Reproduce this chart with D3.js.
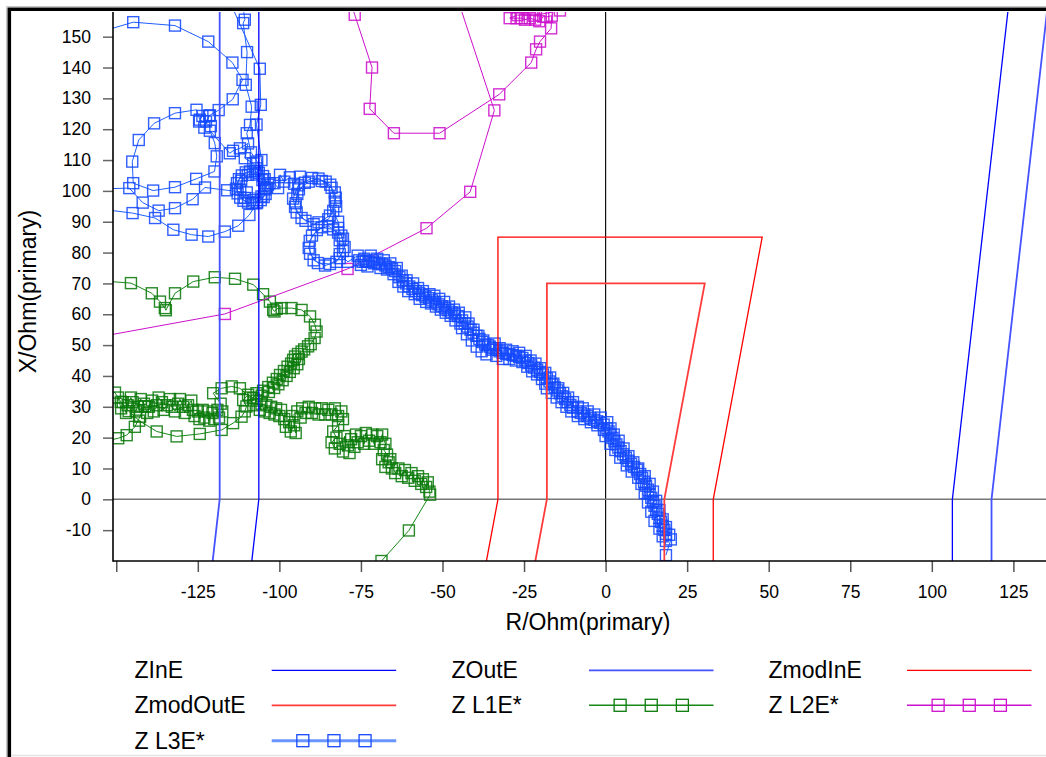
<!DOCTYPE html>
<html>
<head>
<meta charset="utf-8">
<script src="https://cdn.jsdelivr.net/npm/d3@7"></script>
<style>
  html, body { margin: 0; padding: 0; background: #fff; }
  svg { display: block; font-family: "Liberation Sans", Arial, sans-serif; }
</style>
</head>
<body>
<svg id="chart" width="1046" height="757"></svg>
<script>
/* Impedance plane (R/X) with zone characteristics and three loop trajectories. */

// ---- data ---------------------------------------------------------------
const xTicks = [-150, -125, -100, -75, -50, -25, 0, 25, 50, 75, 100, 125];
const xTickLabels = ['', '-125', '-100', '-75', '-50', '-25', '0', '25', '50', '75', '100', '125'];
const yTicks = [-10, 0, 10, 20, 30, 40, 50, 60, 70, 80, 90, 100, 110, 120, 130, 140, 150];

const legendNames = ['ZInE', 'ZOutE', 'ZmodInE', 'ZmodOutE', 'Z L1E*', 'Z L2E*', 'Z L3E*'];

// zone characteristics [R, X] (closed polygons, mostly beyond the visible area)
const zInE = [[106.3, -250], [106.3, 0], [133.2, 250], [-106.3, 250], [-106.3, 0], [-133.2, -250], [106.3, -250]];
const zOutE = [[118.3, -250], [118.3, 0], [145.2, 250], [-118.3, 250], [-118.3, 0], [-145.2, -250], [118.3, -250]];
const zModInE = [[33, -85], [33, 0], [48, 85], [-33, 85], [-33, 0], [-48, -85], [33, -85]];
const zModOutE = [[18, -70], [18, 0], [30.4, 70], [-18, 70], [-18, 0], [-30.4, -70], [18, -70]];

// loop L1 trajectory [R, X]
const zL1 = [
  [-163, 71.5], [-145.5, 70.1], [-139.1, 66.8], [-136.6, 64.1], [-135.1, 62], [-134.8, 61.3], [-132, 66.8],
  [-126.4, 70.6], [-119.8, 72], [-113.6, 71.5], [-108, 69.6], [-105, 66.5], [-102.9, 64.1], [-101.9, 61.4],
  [-101.5, 60.9], [-100.8, 61.8], [-99.3, 62], [-96.3, 62], [-93.2, 61.4], [-90.6, 59.3], [-89.1, 56.6],
  [-88.6, 54.4], [-89.2, 52.3], [-90.4, 50.3], [-91.2, 49.6], [-92.4, 48.6], [-93.2, 47.9], [-94.3, 47.1],
  [-95.2, 46.3], [-94, 45.5], [-95.8, 45.2], [-94.5, 43.8], [-96.4, 44], [-95.6, 42.5], [-97.5, 43],
  [-96.8, 41.3], [-98.6, 41.6], [-97.8, 40], [-99.8, 40.3], [-99, 38.6], [-100.8, 39], [-100.3, 37.3],
  [-102, 37.8], [-101.6, 36.1], [-103.4, 36.4], [-103.2, 34.8], [-105, 35.2], [-105.4, 33.6], [-107, 34.4],
  [-108, 32.8], [-109.6, 33.9], [-111.1, 32.2], [-110.1, 30.1], [-110.6, 28.5], [-111.6, 26.8], [-114.2, 24.7],
  [-117.7, 22.5], [-124.4, 21.2], [-131.5, 20.4], [-137.6, 22], [-143, 25.5], [-146.2, 28.6], [-148.6, 31.6],
  [-150.4, 34.6], [-161, 37.8], [-161, 17],
  [-149.4, 19.8], [-146.8, 20.8], [-144.3, 23.5], [-142.7, 26.8], [-141.2, 30.2],
  [-149.5, 33], [-148.5, 29.5], [-148, 31.5], [-147, 28], [-146.5, 30.5], [-145.5, 33], [-145, 31.5],
  [-144, 28.5], [-143.5, 30], [-142.5, 32.5], [-141.5, 31], [-140.5, 28], [-140, 30], [-139, 32],
  [-138.5, 28.5], [-137.5, 30.5], [-137, 33], [-136, 31.5], [-135.5, 29], [-134.5, 30.5], [-133.5, 32.5],
  [-133, 30], [-132, 28.5], [-131, 31], [-130.5, 32.5], [-129.5, 30], [-129, 28], [-128, 30.5], [-127, 32],
  [-126.5, 29], [-126, 27], [-125, 28.5], [-124.5, 26], [-123.5, 29], [-123, 26.5], [-122, 28.5],
  [-121.5, 25.5], [-120.5, 28], [-120, 26], [-119, 29], [-118.5, 26.5], [-117.5, 28.5], [-118, 31],
  [-120.3, 34.4], [-117.7, 36], [-114.6, 36.6], [-112.1, 36],
  [-109, 33], [-108, 30.5], [-107, 32], [-106, 29], [-105.5, 31], [-104.5, 28.5], [-104, 30.5], [-103, 28],
  [-102.5, 30], [-101.5, 27.5], [-101, 29.5], [-100, 27], [-99.5, 29], [-98.5, 26], [-98, 23.5], [-97, 25],
  [-96.5, 22], [-95.5, 24], [-95, 21.5], [-96, 27], [-94.5, 28.5], [-93.5, 26.5], [-93, 29.5], [-92, 28],
  [-91, 30], [-90, 28], [-89, 29.5], [-88, 27.5], [-87, 29.5], [-86, 27.5], [-85, 29], [-84, 27.5],
  [-83, 29.5], [-82, 27], [-81, 28.5], [-80.5, 26],
  [-82, 24], [-83.5, 22], [-82.5, 20], [-84, 18.5], [-83, 16.5], [-81.5, 18], [-80.5, 15.5], [-80, 20.5],
  [-79, 17.5], [-78.5, 15], [-78, 19.5], [-77, 17], [-76.5, 21], [-76, 18.5],
  [-75, 20.5], [-74, 18], [-73.5, 21.5], [-72.5, 19], [-71.5, 21], [-71, 18], [-70, 20.5], [-69, 18.5],
  [-68.5, 21], [-67.5, 18],
  [-68, 16], [-67, 14.5], [-68.5, 13], [-66.5, 12], [-67.5, 10.5], [-65.5, 10], [-66, 13], [-64.5, 8.5],
  [-63.5, 10], [-62.5, 7.5], [-61.5, 9.5], [-60.5, 7], [-59.5, 8.5], [-58.5, 6], [-57.5, 7.5], [-56.5, 5],
  [-56, 6.5], [-55, 4], [-54.5, 5.5], [-54, 2.5], [-53.8, 1.5],
  [-60.3, -10.1], [-68.7, -20], [-76, -29]
];

// loop L2 trajectory [R, X]
const zL2 = [
  [-165, 50.8], [-116.7, 60.1], [-79.1, 74.7], [-54.9, 87.9], [-41.5, 99.7], [-34.1, 126.1], [-48.3, 171.6],
  [-82, 174], [-76.9, 157.1], [-71.6, 140], [-72.3, 126.6], [-64.9, 118.7], [-50.9, 118.7], [-32.6, 131.3],
  [-22.8, 141.6], [-21.3, 145.9], [-20.1, 148.4], [-16.7, 152.7], [-16.5, 156.8], [-18, 156.4], [-19.1, 156.5],
  [-20.3, 155], [-21.6, 155.5], [-23.2, 156], [-24.7, 155.5], [-25.7, 156], [-27.3, 156], [-29.4, 156],
  [-27, 157], [-22, 156.8], [-14, 158.5], [-10, 166]
];

// loop L3 trajectory [R, X]
const zL3 = [
  [-161, 149.6], [-144.8, 154.7], [-132, 153.6], [-121.8, 148.4], [-114.4, 141.6], [-111.3, 136],
  [-114.3, 129.7], [-118.6, 126.2], [-121.3, 124.5], [-123.6, 124.3], [-124.6, 122.5], [-122.5, 122.5],
  [-121.5, 124.3], [-123, 120.5], [-121, 121], [-124.4, 123.1], [-125.4, 126.3], [-132, 125.2],
  [-138.4, 121.9], [-143.1, 116.5], [-145.1, 109.5], [-144.8, 102.5], [-138.7, 100.1], [-132, 101.2],
  [-125.5, 103.9], [-119.9, 106.3], [-119.2, 111.2], [-119.8, 115.5], [-121.3, 119.5], [-115.2, 112.2],
  [-114.2, 113], [-112.1, 113.8], [-109.6, 115.4], [-110.6, 110.6], [-108, 108.9], [-107, 107.3],
  [-104, 101], [-104.5, 103.8], [-106.3, 105.8], [-109, 106.3], [-111.5, 105], [-113, 102.5], [-112.8, 99.2],
  [-111, 96.8], [-108.3, 96], [-105.7, 97], [-104.2, 99],
  [-110, 99.5], [-116, 100.2], [-122.8, 101.1], [-126.6, 97.3], [-132, 94.4], [-137, 93.6], [-141.9, 96.2],
  [-146, 100.9], [-163, 100.4], [-200, 180],
  [-112, 167], [-110.6, 155.5], [-111.1, 154.4], [-109.9, 145], [-110.3, 134.4], [-108.5, 127.3],
  [-109, 121.4], [-110, 118.7], [-108.7, 112.5], [-106.8, 109.5],
  [-103.5, 102], [-105, 104.8], [-107.5, 106.5], [-110.3, 106], [-112.4, 103.8], [-113.3, 100.7], [-112, 97.8],
  [-109.6, 96.2], [-106.8, 96.3], [-104.8, 98], [-104.3, 100.5],
  [-105.5, 110], [-107, 121.5], [-105.7, 127.9], [-106, 139.6], [-118, 168], [-200, 180], [-200, 95],
  [-163, 95.2], [-145, 92.8], [-138.1, 91.2], [-132.5, 87.4], [-126.9, 85.8], [-121.8, 85.2], [-116.7, 86.8],
  [-112.6, 88.7], [-109.2, 92.2], [-107, 96],
  [-105.2, 103.5], [-107, 105.3], [-109.7, 105.2], [-111.7, 103.3], [-112, 100.4], [-110.6, 97.7], [-108, 97],
  [-105.5, 98.2], [-104.5, 100.8], [-103, 102.5],
  [-101.5, 102.5], [-100.4, 100.9], [-99.8, 105.2], [-98.5, 103], [-96.8, 104.4], [-95.5, 102.3], [-93.7, 104.6],
  [-95, 96], [-94, 100.5], [-91, 103], [-87, 103.2], [-84, 101], [-83, 96.5], [-84.5, 92], [-88, 89.8],
  [-92, 90.3], [-94.7, 93],
  [-95.8, 97.5], [-94.2, 101.8], [-90, 104.2], [-85.8, 103], [-83, 99.5], [-82.6, 95], [-85, 90.8],
  [-89.5, 89.2], [-93.2, 91.2], [-95.2, 94.8],
  [-94.5, 99], [-92.2, 102.6], [-88, 104], [-84.4, 102], [-82.7, 97.8], [-83.5, 93.5], [-82, 90],
  [-82, 88], [-80.5, 84.5], [-80.5, 80.5], [-82.5, 77], [-86, 75.8], [-89.5, 77.5], [-91, 81.5], [-90, 85.5],
  [-87, 88.2],
  [-83.5, 87.5], [-81, 85.5], [-80, 81.8], [-81.5, 78.2], [-84.5, 76.3], [-88.2, 76.6], [-90.6, 79.6],
  [-90.7, 83.8], [-88.5, 87.3], [-85, 88.6], [-82, 86.5], [-81.5, 84], [-81.5, 79.5], [-79, 77],
  [-76, 79], [-75.5, 77.5], [-75, 76], [-74.5, 77], [-74, 78], [-73.5, 77.2], [-73, 75.5], [-72.5, 77],
  [-72, 79], [-71.5, 77.5], [-71, 76.5], [-70.5, 76.8], [-70, 78], [-69.5, 76.5], [-69, 75], [-68.5, 76.2],
  [-68, 77.5], [-67.5, 75.8], [-67, 74.5], [-66.5, 75.3], [-66, 76.5], [-65.5, 74.8], [-65, 73], [-64.5, 74],
  [-64, 75],
  [-63.2, 72], [-63.5, 70.5], [-62.2, 71], [-62.5, 72.5], [-62, 69], [-61.2, 70], [-61, 71], [-60.5, 67.5],
  [-60.2, 69], [-59, 70], [-59.2, 68.2], [-58.5, 66.5], [-58.2, 67.5], [-57.5, 68.5], [-57.2, 66.8], [-57, 65],
  [-56.2, 66.2], [-56, 67.5], [-55.2, 65.7], [-55, 64], [-54.2, 65.2], [-54, 66.5], [-53.5, 63.5],
  [-53.2, 64.5], [-52.5, 66], [-52.2, 63.9], [-52, 62.5], [-51.2, 63.2], [-51, 65], [-50.5, 61.5],
  [-50.2, 62.6], [-49.5, 64], [-49.2, 62], [-49, 60.5], [-48.2, 61.3], [-48, 62.5], [-47.5, 59.5],
  [-47.2, 60.6], [-46.5, 61.5], [-46.2, 60], [-46, 58], [-45.2, 59.4], [-45, 60.5], [-44.5, 57],
  [-44, 58], [-43, 59], [-43.2, 57], [-44, 55.5], [-42.3, 56], [-42, 57], [-42.5, 53.5], [-41.4, 55],
  [-40.5, 55], [-41, 51.5], [-40.5, 54], [-39, 53], [-39.6, 53], [-39.5, 49.5], [-38.7, 52], [-37.5, 51.5],
  [-37.8, 51], [-38, 48], [-36.9, 50.2], [-36, 50], [-36.5, 47],
  [-35.5, 49.5], [-35, 48.5], [-34.5, 49], [-34, 50.5], [-33.5, 48.5], [-33.5, 46.5], [-32.5, 48], [-32.5, 49],
  [-31.5, 47.5], [-31.5, 45.5], [-30.5, 47.2], [-30.5, 48.5], [-29.5, 47], [-29.5, 45.5], [-28.5, 46.8],
  [-28.5, 48], [-27.5, 46.5], [-27.5, 45], [-26.5, 46.2], [-26.5, 47.5], [-25.5, 44.5],
  [-25.5, 45.8], [-24.5, 46.5], [-24.6, 45], [-24, 43], [-23.7, 44.2], [-23, 45], [-22.8, 43.4], [-22.5, 41.5],
  [-21.9, 42.7], [-21.5, 44], [-21, 42], [-21, 40.5], [-20.1, 41.3], [-20, 42.5], [-19.2, 40.5], [-19.5, 39],
  [-18.5, 41], [-18.5, 37.5],
  [-18, 39.2], [-17, 39.5], [-17.2, 38.2], [-18, 36], [-16.4, 37.2], [-16, 37.5], [-16.5, 34.5], [-15.6, 36.3],
  [-14.5, 36], [-14.8, 35.3], [-15, 33], [-14, 34.4], [-13, 34.5], [-13.2, 33.4], [-13.5, 31.5], [-12.4, 32.5],
  [-11.5, 33], [-11.6, 31.5], [-12, 30], [-10.8, 30.6], [-10, 31.5], [-10, 29.7], [-10.5, 28.5], [-8.5, 30],
  [-8.6, 28.5], [-8.5, 27], [-7.6, 28], [-7, 29.5], [-6.6, 27.5], [-6.5, 26], [-5.6, 27], [-5.5, 28.5],
  [-4.6, 26.4], [-4.5, 25], [-3.6, 25.8], [-3.5, 27.5], [-2.6, 25.3], [-2.5, 24], [-1.6, 24.8], [-1.5, 26.5],
  [-0.6, 24.2], [-0.5, 22.5], [0.5, 25],
  [0.3, 23], [1.5, 23], [0.9, 22], [0, 20.5], [1.5, 21], [2.5, 21], [2.1, 19.9], [1.5, 18], [2.7, 18.8],
  [4, 19], [3.3, 17.8], [3, 16], [3.9, 16.8], [5.5, 16.5], [4.6, 15.6], [4.5, 13.5], [5.4, 14.6], [7, 14],
  [6.2, 13.5], [6.5, 11], [7, 12.5], [8.5, 12], [7.8, 11.5], [8, 9], [8.7, 10.5], [10, 10], [9.6, 9.6], [10, 7],
  [10.6, 8.2], [12, 7.5], [11.2, 7], [11, 5], [11.8, 5.7], [13.5, 5], [12.4, 4.4], [12, 2], [13, 3.1],
  [14.5, 2.5], [13.5, 1.8], [13, -1], [14, 0.5], [15.5, -0.5], [14.5, -0.8], [14, -4], [15, -2.1],
  [16.5, -3.5], [15.5, -3.4], [15, -7], [16, -4.7], [17.5, -6.5], [16.5, -6], [16.5, -9.5], [17, -7.3],
  [18.5, -9], [17.5, -8.6], [17.5, -12], [18, -9.9], [19.5, -11.5], [18.5, -11.2], [18.5, -13.5], [20, -13],
  [18.5, -18.1]
];

// ---- styles ---------------------------------------------------------------
const STYLE = {
  'ZInE':     { stroke: '#0000ff', width: 1.3 },
  'ZOutE':    { stroke: '#4452ff', width: 1.8 },
  'ZmodInE':  { stroke: '#ff0000', width: 1.3 },
  'ZmodOutE': { stroke: '#ff3c3c', width: 1.8 },
  'Z L1E*':   { stroke: '#168816', width: 1, marker: '#0a7a0a', legendStroke: '#168816', legendWidth: 1.4 },
  'Z L2E*':   { stroke: '#cc11cc', width: 1, marker: '#cc11cc', legendStroke: '#cc11cc', legendWidth: 1.4 },
  'Z L3E*':   { stroke: '#2060ff', width: 1, marker: '#1449ff', legendStroke: '#6a95ff', legendWidth: 3 },
};
const FONT = '"Liberation Sans", Arial, sans-serif';

// ---- layout -------------------------------------------------------------
const svg = d3.select('#chart');
const plotBox = { left: 113, top: 12, right: 1046, bottom: 561 };

const x = d3.scaleLinear().domain([-151, 135]).range([plotBox.left, plotBox.right]);
const y = d3.scaleLinear().domain([-20, 158]).range([plotBox.bottom, plotBox.top]);

svg.append('defs').append('clipPath').attr('id', 'plot-clip')
  .append('rect')
  .attr('x', plotBox.left).attr('y', plotBox.top)
  .attr('width', plotBox.right - plotBox.left).attr('height', plotBox.bottom - plotBox.top);

// outer frame (top + left edge visible)
svg.append('path').attr('d', 'M6.5,757V6.5H1046').attr('fill', 'none').attr('stroke', '#c4c4c4').attr('stroke-width', 1);
svg.append('path').attr('d', 'M9.3,757V9.3H1046').attr('fill', 'none').attr('stroke', '#000').attr('stroke-width', 3.6);
svg.append('line').attr('x1', 11).attr('x2', 1046).attr('y1', 755.5).attr('y2', 755.5)
  .attr('stroke', '#e4e4e4').attr('stroke-width', 1.5);

const plot = svg.append('g').attr('clip-path', 'url(#plot-clip)');
const line = d3.line().x((d) => x(d[0])).y((d) => y(d[1]));

// origin lines
plot.append('line')
  .attr('x1', x(0)).attr('x2', x(0)).attr('y1', plotBox.top).attr('y2', plotBox.bottom)
  .attr('stroke', '#111').attr('stroke-width', 1.2);
plot.append('line')
  .attr('x1', plotBox.left).attr('x2', plotBox.right).attr('y1', y(0)).attr('y2', y(0))
  .attr('stroke', '#777').attr('stroke-width', 1.6);

// trajectories
const MS = 11; // marker size
function drawTrajectory(data, name) {
  const st = STYLE[name];
  plot.append('path').datum(data)
    .attr('d', line).attr('fill', 'none')
    .attr('stroke', st.stroke).attr('stroke-width', st.width);
  plot.append('g').selectAll('rect').data(data).enter().append('rect')
    .attr('x', (d) => x(d[0]) - MS / 2).attr('y', (d) => y(d[1]) - MS / 2)
    .attr('width', MS).attr('height', MS)
    .attr('fill', 'none').attr('stroke', st.marker)
    .attr('stroke-width', 1.4).attr('stroke-opacity', 0.88);
}
drawTrajectory(zL1, 'Z L1E*');
drawTrajectory(zL2, 'Z L2E*');
drawTrajectory(zL3, 'Z L3E*');

// zone characteristics
[[zInE, 'ZInE'], [zOutE, 'ZOutE'], [zModInE, 'ZmodInE'], [zModOutE, 'ZmodOutE']].forEach(([data, name]) => {
  plot.append('path').datum(data)
    .attr('d', line).attr('fill', 'none')
    .attr('stroke', STYLE[name].stroke).attr('stroke-width', STYLE[name].width);
});

// axes
const yAxis = svg.append('g').attr('transform', `translate(${plotBox.left},0)`)
  .call(d3.axisLeft(y).tickValues(yTicks).tickSize(10).tickPadding(12).tickFormat((d) => String(d)));
yAxis.select('.domain').remove();
yAxis.attr('font-family', FONT).attr('font-size', 17.5);
yAxis.selectAll('line').attr('stroke', '#666').attr('stroke-width', 1.5);
yAxis.selectAll('text').attr('fill', '#000');

const xAxis = svg.append('g').attr('transform', `translate(0,${plotBox.bottom})`)
  .call(d3.axisBottom(x).tickValues(xTicks).tickSize(11).tickPadding(14)
    .tickFormat((d, i) => xTickLabels[i]));
xAxis.select('.domain').remove();
xAxis.attr('font-family', FONT).attr('font-size', 17.5);
xAxis.selectAll('line').attr('stroke', '#555').attr('stroke-width', 1.5);
xAxis.selectAll('text').attr('fill', '#000');

svg.append('line')
  .attr('x1', plotBox.left).attr('x2', plotBox.left).attr('y1', plotBox.top).attr('y2', plotBox.bottom + 0.8)
  .attr('stroke', '#000').attr('stroke-width', 1.6);
svg.append('line')
  .attr('x1', plotBox.left).attr('x2', plotBox.right).attr('y1', plotBox.bottom).attr('y2', plotBox.bottom)
  .attr('stroke', '#000').attr('stroke-width', 1.6);

// axis titles
svg.append('text')
  .attr('x', 588).attr('y', 630)
  .attr('text-anchor', 'middle').attr('font-size', 23).attr('font-family', FONT)
  .text('R/Ohm(primary)');
svg.append('text')
  .attr('transform', 'translate(36,291.5) rotate(-90)')
  .attr('text-anchor', 'middle').attr('font-size', 23).attr('font-family', FONT)
  .text('X/Ohm(primary)');

// legend
const legCols = [{ tx: 134.5, lx: 271.7 }, { tx: 451.5, lx: 589 }, { tx: 768.5, lx: 907 }];
const legRows = [670.3, 705.3, 740.7];
const legLen = 124.5;
const legend = svg.append('g').attr('font-family', FONT).attr('font-size', 23);
legendNames.forEach((name, i) => {
  const c = legCols[i % 3];
  const ry = legRows[Math.floor(i / 3)];
  const st = STYLE[name];
  legend.append('text').attr('x', c.tx).attr('y', ry + 8).attr('fill', '#000').text(name);
  legend.append('line')
    .attr('x1', c.lx).attr('x2', c.lx + legLen).attr('y1', ry).attr('y2', ry)
    .attr('stroke', st.legendStroke || st.stroke).attr('stroke-width', st.legendWidth || st.width);
  if (st.marker) {
    [0.25, 0.5, 0.75].forEach((f) => {
      legend.append('rect')
        .attr('x', c.lx + legLen * f - 6).attr('y', ry - 6)
        .attr('width', 12).attr('height', 12)
        .attr('fill', 'none').attr('stroke', st.marker).attr('stroke-width', 1.3);
    });
  }
});
</script>
</body>
</html>
